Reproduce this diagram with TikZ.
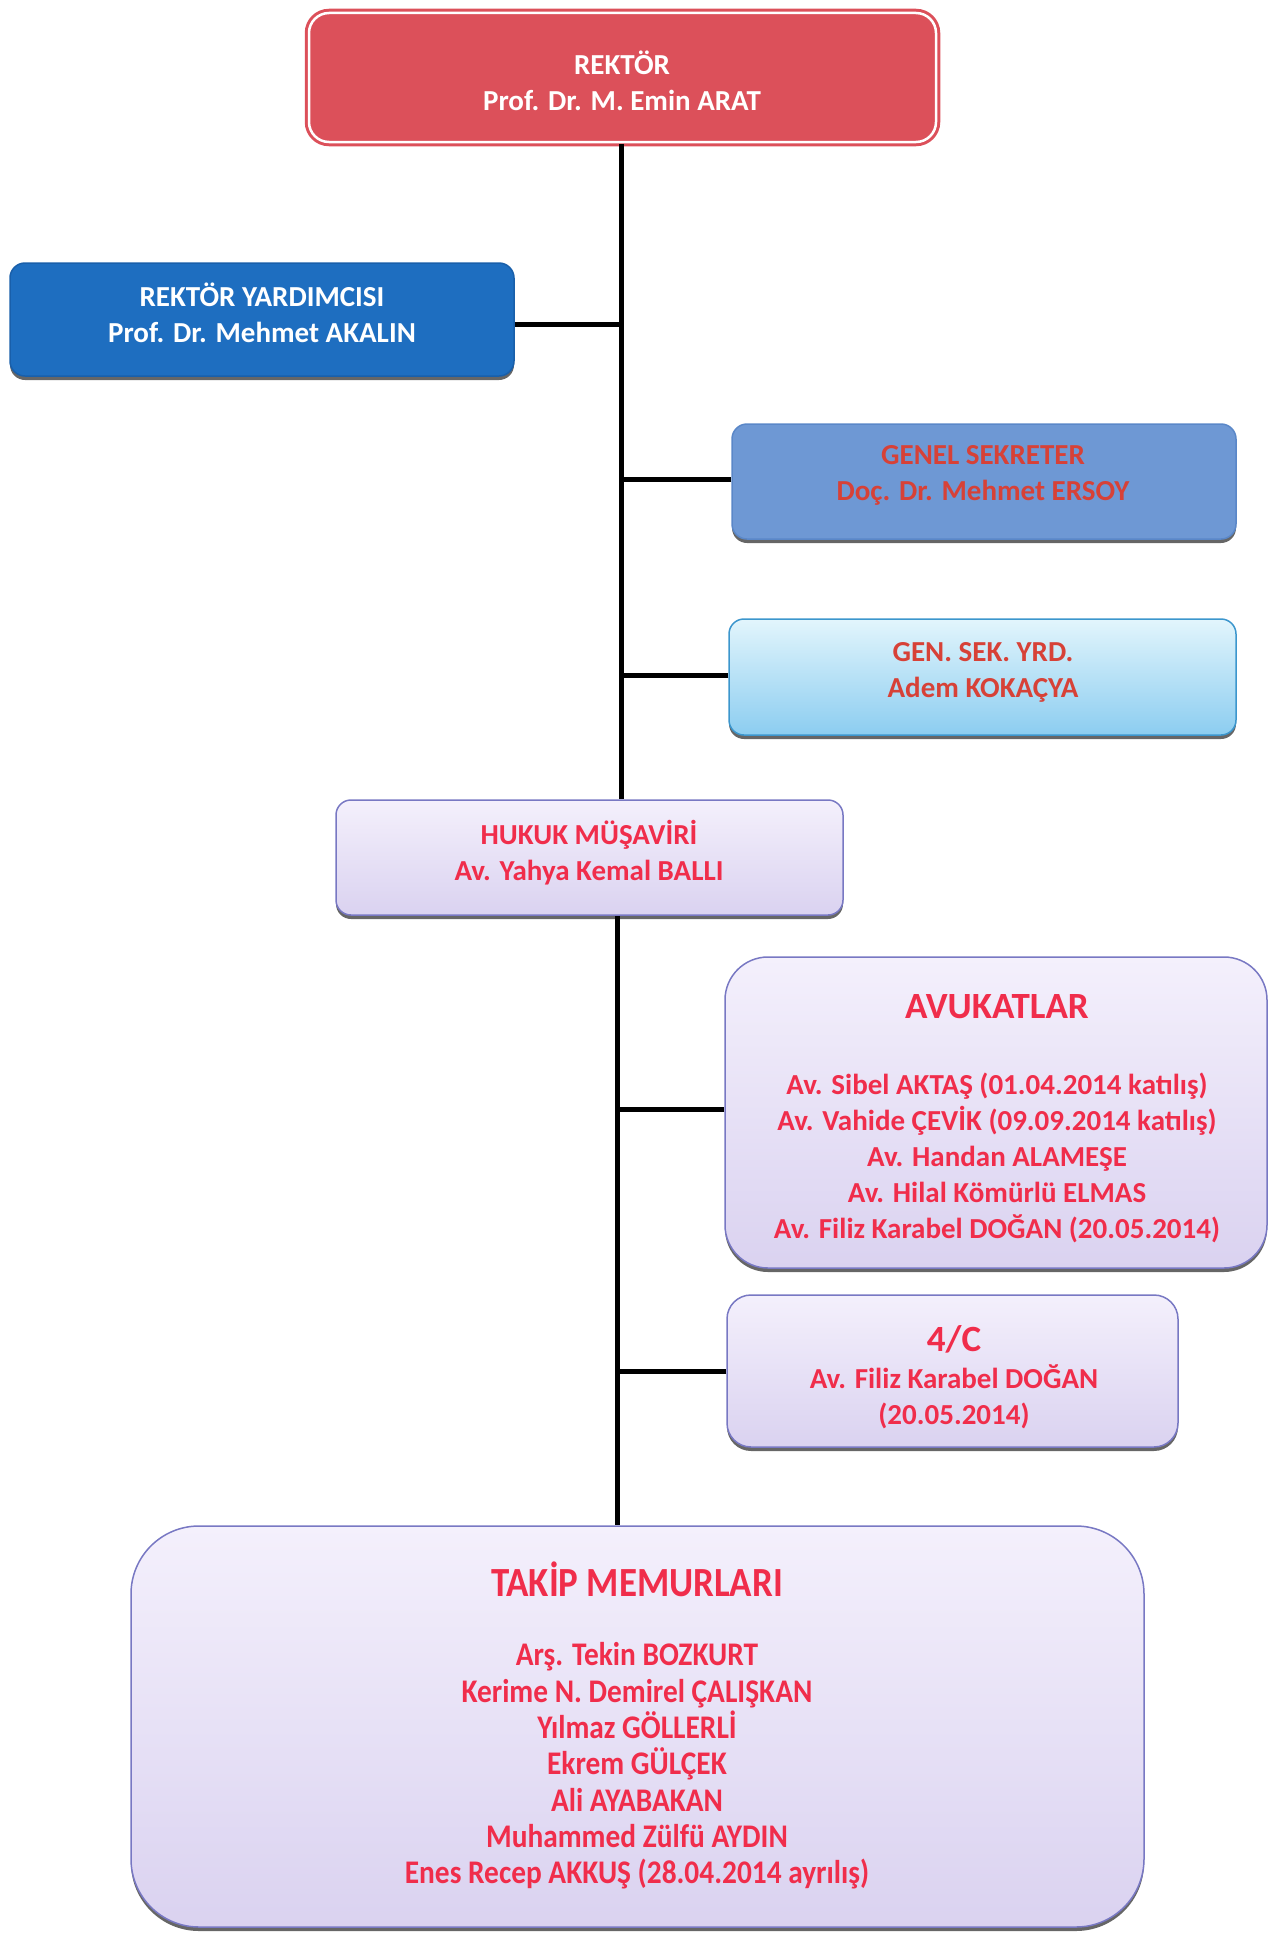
\documentclass[tikz,border=0pt]{standalone}
\usepackage{fontspec}
\setmainfont{Carlito}
\newfontfamily\condfont[FakeStretch=0.89]{Carlito}
\usetikzlibrary{shadows}
\definecolor{rektorred}{RGB}{220,80,90}
\definecolor{yardblue}{RGB}{30,110,192}
\definecolor{yardborder}{RGB}{25,95,170}
\definecolor{genelblue}{RGB}{110,152,212}
\definecolor{genelborder}{RGB}{90,135,200}
\definecolor{gsytop}{RGB}{226,245,252}
\definecolor{gsybot}{RGB}{140,205,240}
\definecolor{gsyborder}{RGB}{60,150,205}
\definecolor{lavtop}{RGB}{244,240,252}
\definecolor{lavbot}{RGB}{218,210,240}
\definecolor{lavborder}{RGB}{120,120,195}
\definecolor{redtext}{RGB}{240,45,75}
\definecolor{genred}{RGB}{215,65,55}
\tikzset{
  box/.style={rounded corners=#1, inner sep=0pt, line width=1.5pt,
    copy shadow={shadow yshift=-4pt, shadow xshift=0pt, fill=black!60, draw=none}},
  box/.default=15pt,
  lav/.style={draw=lavborder, top color=lavtop, bottom color=lavbot},
  txt/.style={align=center, inner sep=0pt, font=\bfseries\fontsize{29}{36}\selectfont},
  bigtxt/.style={align=center, inner sep=0pt, font=\bfseries\fontsize{37}{44}\selectfont},
  conn/.style={line width=5pt, black},
}
\begin{document}
\begin{tikzpicture}[x=1pt,y=-1pt]
\useasboundingbox (0,0) rectangle (1277,1935);
\coordinate (trunkU) at (621,0);
\coordinate (trunkL) at (617,0);

% boxes
\node[rounded corners=20pt, inner sep=0pt, fill=rektorred, draw=rektorred, line width=3pt,
      double=white, double distance=2.5pt, minimum width=627pt, minimum height=129pt] (rektor) at (622.5,77.5) {};
\node[box, fill=yardblue, draw=yardborder, minimum width=504pt, minimum height=113pt] (yard) at (262,319.5) {};
\node[box, fill=genelblue, draw=genelborder, minimum width=504pt, minimum height=115pt] (genel) at (984,481.5) {};
\node[box, top color=gsytop, bottom color=gsybot, draw=gsyborder, minimum width=507pt, minimum height=116pt] (gsy) at (982.5,677) {};
\node[box, lav, minimum width=507pt, minimum height=115pt] (hukuk) at (589.5,857.5) {};
\node[box=43pt, lav, minimum width=542pt, minimum height=311pt] (avuk) at (996,1112.5) {};
\node[box=24pt, lav, minimum width=451pt, minimum height=152pt] (dortc) at (952.5,1371) {};
\node[box=68pt, lav, minimum width=1013pt, minimum height=401pt] (takip) at (637.5,1726.5) {};

% connectors
\draw[conn] (rektor.south -| trunkU) -- (hukuk.north -| trunkU);
\draw[conn] (hukuk.south -| trunkL) -- (takip.north -| trunkL);
\draw[conn] ([yshift=-4.5pt]yard.east) -- ([yshift=-4.5pt]yard.east -| trunkU);
\draw[conn] ([yshift=2.5pt]genel.west) -- ([yshift=2.5pt]genel.west -| trunkU);
\draw[conn] ([yshift=2pt]gsy.west) -- ([yshift=2pt]gsy.west -| trunkU);
\draw[conn] ([yshift=3.5pt]avuk.west) -- ([yshift=3.5pt]avuk.west -| trunkL);
\draw[conn] (dortc.west) -- (dortc.west -| trunkL);

% texts
\node[txt, white] (rektorT) at (622,81) {REKTÖR\\Prof. Dr. M. Emin ARAT};
\node[txt, white] (yardT) at (262,312.5) {REKTÖR YARDIMCISI\\Prof. Dr. Mehmet AKALIN};
\node[txt, genred] (genelT) at (983,475) {GENEL SEKRETER\\Doç. Dr. Mehmet ERSOY};
\node[txt, genred] (gsyT) at (983,672) {GEN. SEK. YRD.\\Adem KOKAÇYA};
\node[txt, redtext] (hukukT) at (589,852.5) {HUKUK MÜŞAVİRİ\\Av. Yahya Kemal BALLI};
\node[bigtxt, redtext] (avukH) at (997,1007) {AVUKATLAR};
\node[txt, redtext] (avukT) at (997,1157.5) {Av. Sibel AKTAŞ (01.04.2014 katılış)\\Av. Vahide ÇEVİK (09.09.2014 katılış)\\Av. Handan ALAMEŞE\\Av. Hilal Kömürlü ELMAS\\Av. Filiz Karabel DOĞAN (20.05.2014)};
\node[bigtxt, redtext] (dortcH) at (954,1339) {4/C};
\node[txt, redtext] (dortcT) at (954,1397) {Av. Filiz Karabel DOĞAN\\(20.05.2014)};
\node[bigtxt, redtext, font=\condfont\bfseries\fontsize{41.5}{48}\selectfont] (takipH) at (637,1579) {TAKİP MEMURLARI};
\node[txt, redtext, font=\condfont\bfseries\fontsize{33}{36.3}\selectfont] (takipT) at (637,1766) {Arş. Tekin BOZKURT\\Kerime N. Demirel ÇALIŞKAN\\Yılmaz GÖLLERLİ\\Ekrem GÜLÇEK\\Ali AYABAKAN\\Muhammed Zülfü AYDIN\\Enes Recep AKKUŞ (28.04.2014 ayrılış)};
\end{tikzpicture}
\end{document}
